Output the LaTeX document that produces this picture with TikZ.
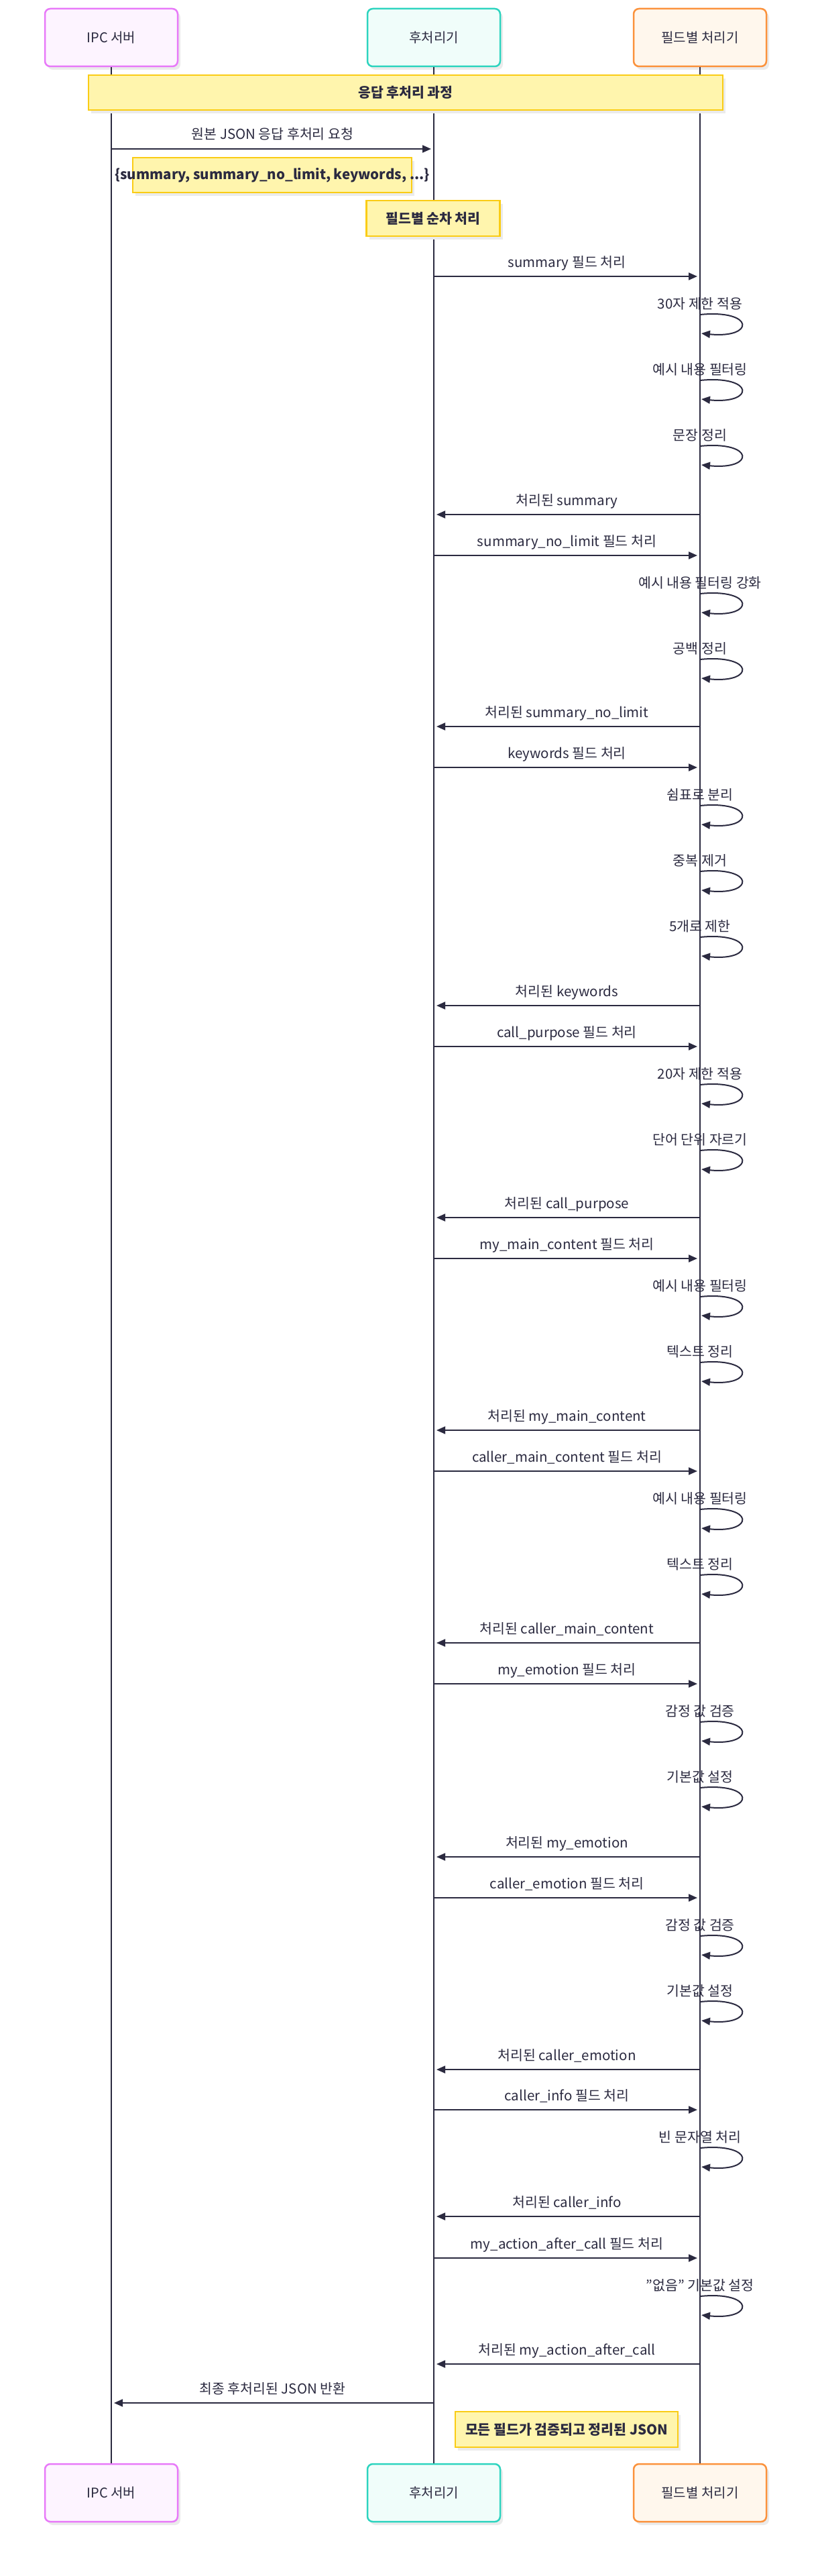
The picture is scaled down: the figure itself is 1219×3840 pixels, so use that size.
\documentclass[tikz,border=0pt]{standalone}
\usepackage{fontspec}
\setmainfont{Noto Sans CJK KR}
\usetikzlibrary{arrows.meta,shadows}
\definecolor{ink}{HTML}{2B2A40}
\definecolor{ipcB}{HTML}{E879F9}
\definecolor{ipcF}{HTML}{FDF4FF}
\definecolor{postB}{HTML}{2DD4BF}
\definecolor{postF}{HTML}{F0FDFA}
\definecolor{fldB}{HTML}{FB923C}
\definecolor{fldF}{HTML}{FFF7ED}
\definecolor{noteB}{HTML}{FACC15}
\definecolor{noteF}{HTML}{FFF5AD}
\newcommand{\fsz}[1]{\fontsize{#1pt}{#1pt}\selectfont}
\newcommand{\msgright}[3]{%
  \draw[msg] (647,#2) -- (1040,#2);
  \node[msgl] (#1) at (845.5,#2-14) {#3};}
\newcommand{\msgleft}[3]{%
  \draw[msg] (1044,#2) -- (651,#2);
  \node[msgl] (#1) at (845.5,#2-14) {#3};}
\newcommand{\selfloop}[3]{%
  \node[msgl] (#1) at (1044,#2) {#3};
  \draw[msg] (1044,#2+9) .. controls (1126,#2+1) and (1126,#2+45) .. (1046,#2+37);}
\begin{document}
\begin{tikzpicture}[x=1pt,y=-1pt,
  actor/.style={line width=2.5pt, rounded corners=8pt, minimum width=198pt,
    minimum height=86pt, inner sep=0pt, font=\fsz{20}, text=ink,
    drop shadow={shadow xshift=4pt,shadow yshift=-5pt,fill=black!8,opacity=1}},
  notebox/.style={draw=noteB, fill=noteF, line width=2.5pt, inner sep=0pt,
    drop shadow={shadow xshift=4pt,shadow yshift=-5pt,fill=black!8,opacity=1}},
  notetext/.style={font=\fsz{20.5}\bfseries, text=ink, inner sep=0pt},
  lifeline/.style={draw=ink, line width=2pt},
  msg/.style={draw=ink, line width=2pt, -{Triangle[length=13pt,width=11pt]}},
  msgl/.style={font=\fsz{20.5}, text=ink, anchor=base, inner sep=0pt}]
\fill[white] (0,0) rectangle (1219,3840);
\useasboundingbox (0,0) rectangle (1219,3840);
% actors
\node[actor, draw=ipcB, fill=ipcF] (ipcT) at (166,56) {IPC 서버};
\node[actor, draw=postB, fill=postF] (postT) at (647,56) {후처리기};
\node[actor, draw=fldB, fill=fldF] (fldT) at (1044,56) {필드별 처리기};
\node[actor, draw=ipcB, fill=ipcF] (ipcBt) at (166,3716) {IPC 서버};
\node[actor, draw=postB, fill=postF] (postBt) at (647,3716) {후처리기};
\node[actor, draw=fldB, fill=fldF] (fldBt) at (1044,3716) {필드별 처리기};
% lifelines
\draw[lifeline] (ipcT.south) -- (ipcBt.north);
\draw[lifeline] (postT.south) -- (postBt.north);
\draw[lifeline] (fldT.south) -- (fldBt.north);
% notes
\node[notebox, minimum width=946pt, minimum height=52pt] (n1) at (605,138) {};
\node[notetext] (n1t) at (n1.center) {응답 후처리 과정};
\node[notebox, minimum width=416pt, minimum height=52pt] (n2) at (406,261) {};
\node[notetext] (n2t) at (n2.center) {\{summary, summary\_no\_limit, keywords, ...\}};
\node[notebox, minimum width=199pt, minimum height=53pt] (n3) at (646,325.5) {};
\node[notetext] (n3t) at (n3.center) {필드별 순차 처리};
\node[notebox, minimum width=332pt, minimum height=53pt] (n4) at (845,3621.5) {};
\node[notetext] (n4t) at (n4.center) {모든 필드가 검증되고 정리된 JSON};
% first message
\draw[msg] (166,222) -- (643,222);
\node[msgl] (m0) at (406.5,208) {원본 JSON 응답 후처리 요청};
% summary
\msgright{m1}{412}{summary 필드 처리}
\selfloop{l11}{460}{30자 제한 적용}
\selfloop{l12}{558}{예시 내용 필터링}
\selfloop{l13}{656}{문장 정리}
\msgleft{r1}{767}{처리된 summary}
% summary_no_limit
\msgright{m2}{828}{summary\_no\_limit 필드 처리}
\selfloop{l21}{876}{예시 내용 필터링 강화}
\selfloop{l22}{974}{공백 정리}
\msgleft{r2}{1083}{처리된 summary\_no\_limit}
% keywords
\msgright{m3}{1144}{keywords 필드 처리}
\selfloop{l31}{1192}{쉼표로 분리}
\selfloop{l32}{1290}{중복 제거}
\selfloop{l33}{1388}{5개로 제한}
\msgleft{r3}{1499}{처리된 keywords}
% call_purpose
\msgright{m4}{1560}{call\_purpose 필드 처리}
\selfloop{l41}{1608}{20자 제한 적용}
\selfloop{l42}{1706}{단어 단위 자르기}
\msgleft{r4}{1815}{처리된 call\_purpose}
% my_main_content
\msgright{m5}{1876}{my\_main\_content 필드 처리}
\selfloop{l51}{1924}{예시 내용 필터링}
\selfloop{l52}{2022}{텍스트 정리}
\msgleft{r5}{2132}{처리된 my\_main\_content}
% caller_main_content
\msgright{m6}{2193}{caller\_main\_content 필드 처리}
\selfloop{l61}{2241}{예시 내용 필터링}
\selfloop{l62}{2339}{텍스트 정리}
\msgleft{r6}{2449}{처리된 caller\_main\_content}
% my_emotion
\msgright{m7}{2510}{my\_emotion 필드 처리}
\selfloop{l71}{2558}{감정 값 검증}
\selfloop{l72}{2656}{기본값 설정}
\msgleft{r7}{2768}{처리된 my\_emotion}
% caller_emotion
\msgright{m8}{2829}{caller\_emotion 필드 처리}
\selfloop{l81}{2877}{감정 값 검증}
\selfloop{l82}{2975}{기본값 설정}
\msgleft{r8}{3085}{처리된 caller\_emotion}
% caller_info
\msgright{m9}{3145}{caller\_info 필드 처리}
\selfloop{l91}{3193}{빈 문자열 처리}
\msgleft{r9}{3304}{처리된 caller\_info}
% my_action_after_call
\msgright{m10}{3366}{my\_action\_after\_call 필드 처리}
\selfloop{l101}{3414}{\symbol{34}없음\symbol{34} 기본값 설정}
\msgleft{r10}{3524}{처리된 my\_action\_after\_call}
% final
\draw[msg] (647,3582) -- (170,3582);
\node[msgl] (mf) at (406.5,3568) {최종 후처리된 JSON 반환};
\end{tikzpicture}
\end{document}
